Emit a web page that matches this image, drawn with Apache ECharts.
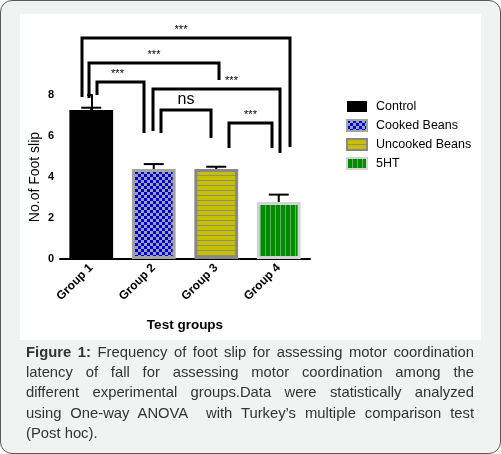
<!DOCTYPE html>
<html>
<head>
<meta charset="utf-8">
<script src="https://cdn.jsdelivr.net/npm/echarts@6/dist/echarts.min.js"></script>
<style>
  html, body { margin: 0; padding: 0; width: 501px; height: 454px; overflow: hidden; font-family: "Liberation Sans", Arial, sans-serif; }
  .frame { position: absolute; left: 0; top: 0; width: 499px; height: 452px; border: 1px solid #5a5a5a; border-radius: 12px; background: #f1f2f2; }
  .panel { position: absolute; left: 20px; top: 14px; width: 461px; height: 326px; background: #fff; }
  #chart { position: absolute; left: 0; top: 0; width: 501px; height: 454px; }
  .caption { position: absolute; left: 26px; top: 342px; width: 448px; font-size: 14.8px; line-height: 20.2px; color: #333; }
  .caption div { white-space: nowrap; text-align: justify; text-align-last: justify; }
  .caption div.last { text-align-last: left; }
</style>
</head>
<body>
<div class="frame"></div>
<div class="panel"></div>
<div id="chart"></div>
<div class="caption">
  <div><b>Figure 1:</b> Frequency of foot slip for assessing motor coordination</div>
  <div>latency of fall for assessing motor coordination among the</div>
  <div>different experimental groups.Data were statistically analyzed</div>
  <div>using One-way ANOVA&nbsp; with Turkey’s multiple comparison test</div>
  <div class="last">(Post hoc).</div>
</div>
<script>
// data
const groups = ['Group 1', 'Group 2', 'Group 3', 'Group 4'];
const treatments = ['Control', 'Cooked Beans', 'Uncooked Beans', '5HT'];
const means = [7.27, 4.39, 4.39, 2.78];
const sems = [0.11, 0.24, 0.11, 0.36];
const yTicks = [0, 2, 4, 6, 8];

// significance brackets: [x left, x right, y top, y left foot, y right foot] in group-index / y units
const brackets = [
  [-0.148, 3.18, 10.78, 7.9, 5.46],
  [-0.036, 2.044, 9.56, 7.85, 8.73],
  [0.092, 0.844, 8.63, 8.0, 6.15],
  [0.988, 3.02, 8.29, 6.24, 5.17],
  [1.116, 1.916, 7.27, 6.15, 5.9],
  [2.204, 2.892, 6.63, 5.41, 5.41]
];
const bracketLabels = ['***', '***', '***', '***', 'ns', '***'];
const labelShift = [-5, 0, -3, 15, 0, 0];

function pattern(w, h, draw) {
  const c = document.createElement('canvas');
  c.width = w; c.height = h;
  draw(c.getContext('2d'));
  return { image: c, repeat: 'repeat' };
}

const checker = pattern(6, 6, g => {
  g.fillStyle = '#9d9dbd'; g.fillRect(0, 0, 6, 6);
  g.fillStyle = '#0000cc'; g.fillRect(0, 0, 3, 3); g.fillRect(3, 3, 3, 3);
});
const hStripes = pattern(4, 5, g => {
  g.fillStyle = '#c6c000'; g.fillRect(0, 0, 4, 5);
  g.fillStyle = '#8f8f6c'; g.fillRect(0, 0, 4, 1);
});
const vStripes = pattern(5, 4, g => {
  g.fillStyle = '#008a00'; g.fillRect(0, 0, 5, 4);
  g.fillStyle = '#62b262'; g.fillRect(0, 0, 1, 4);
});

const barStyles = [
  { color: '#000', borderWidth: 0 },
  { color: checker, borderColor: '#a4a4a4', borderWidth: 3 },
  { color: hStripes, borderColor: '#878787', borderWidth: 3 },
  { color: vStripes, borderColor: '#d4d4d4', borderWidth: 3 }
];

const chart = echarts.init(document.getElementById('chart'));

const barSeries = treatments.map((name, i) => ({
  name: name,
  type: 'bar',
  barWidth: '70%',
  barGap: '-100%',
  itemStyle: barStyles[i],
  emphasis: { disabled: true },
  data: means.map((v, j) => (j === i ? v : '-'))
}));

const option = {
  animation: false,
  backgroundColor: 'transparent',
  textStyle: { fontFamily: '"Liberation Sans", Arial, sans-serif' },
  grid: { left: 60, right: 191, top: 95, bottom: 195 },
  legend: {
    data: treatments,
    orient: 'vertical',
    left: 341,
    top: 95,
    icon: 'rect',
    itemWidth: 20,
    itemHeight: 11,
    itemGap: 6,
    selectedMode: false,
    textStyle: { fontSize: 12.5, color: '#000', padding: [0, 0, 0, 4] }
  },
  xAxis: [{
    type: 'category',
    data: groups,
    name: 'Test groups',
    nameLocation: 'middle',
    nameGap: 59,
    nameTextStyle: { fontSize: 13.5, fontWeight: 'bold', color: '#000' },
    axisLine: { lineStyle: { color: '#000', width: 2 } },
    axisTick: { alignWithLabel: true, length: 4, lineStyle: { color: '#000', width: 2 } },
    axisLabel: { rotate: 45, fontSize: 12, fontWeight: 'bold', color: '#000', margin: 7 }
  }, {
    type: 'value',
    min: -0.5,
    max: 3.5,
    show: false
  }],
  yAxis: {
    type: 'value',
    min: yTicks[0],
    max: yTicks[yTicks.length - 1],
    interval: 2,
    name: 'No.of Foot slip',
    nameLocation: 'middle',
    nameGap: 18,
    nameTextStyle: { fontSize: 14, color: '#000' },
    splitLine: { show: false },
    axisLine: { show: true, lineStyle: { color: '#000', width: 2 } },
    axisTick: { show: true, length: 4, lineStyle: { color: '#000', width: 2 } },
    axisLabel: { fontSize: 11, fontWeight: 'bold', color: '#000', margin: 6 }
  },
  series: barSeries.concat([{
    type: 'custom',
    name: 'sem',
    xAxisIndex: 0,
    z: 5,
    silent: true,
    data: means.map((m, i) => [i, m, m + sems[i]]),
    encode: { x: 0, y: 2 },
    renderItem: function (params, api) {
      const base = api.coord([api.value(0), api.value(1)]);
      const top = api.coord([api.value(0), api.value(2)]);
      const style = { stroke: '#000', lineWidth: 2 };
      return {
        type: 'group',
        children: [
          { type: 'line', shape: { x1: top[0], y1: base[1], x2: top[0], y2: top[1] }, style: style },
          { type: 'line', shape: { x1: top[0] - 10, y1: top[1], x2: top[0] + 10, y2: top[1] }, style: style }
        ]
      };
    }
  }, {
    type: 'custom',
    name: 'brackets',
    xAxisIndex: 1,
    clip: false,
    silent: true,
    z: 6,
    data: brackets,
    renderItem: function (params, api) {
      const i = params.dataIndex;
      const x1 = api.value(0), x2 = api.value(1), yt = api.value(2);
      const pL = api.coord([x1, api.value(3)]);
      const pLT = api.coord([x1, yt]);
      const pRT = api.coord([x2, yt]);
      const pR = api.coord([x2, api.value(4)]);
      const isNs = bracketLabels[i] === 'ns';
      return {
        type: 'group',
        children: [
          {
            type: 'polyline',
            shape: { points: [pL, pLT, pRT, pR] },
            style: { stroke: '#000', lineWidth: 3, fill: null, lineJoin: 'miter' }
          },
          {
            type: 'text',
            x: (pLT[0] + pRT[0]) / 2 + labelShift[i],
            y: pLT[1] - (isNs ? 2 : 3),
            style: {
              text: bracketLabels[i],
              fontSize: isNs ? 16 : 11,
              fill: '#000',
              align: 'center',
              verticalAlign: 'bottom',
              fontFamily: '"Liberation Sans", Arial, sans-serif'
            }
          }
        ]
      };
    }
  }])
};

chart.setOption(option);
window.addEventListener('resize', () => chart.resize());
</script>
</body>
</html>
